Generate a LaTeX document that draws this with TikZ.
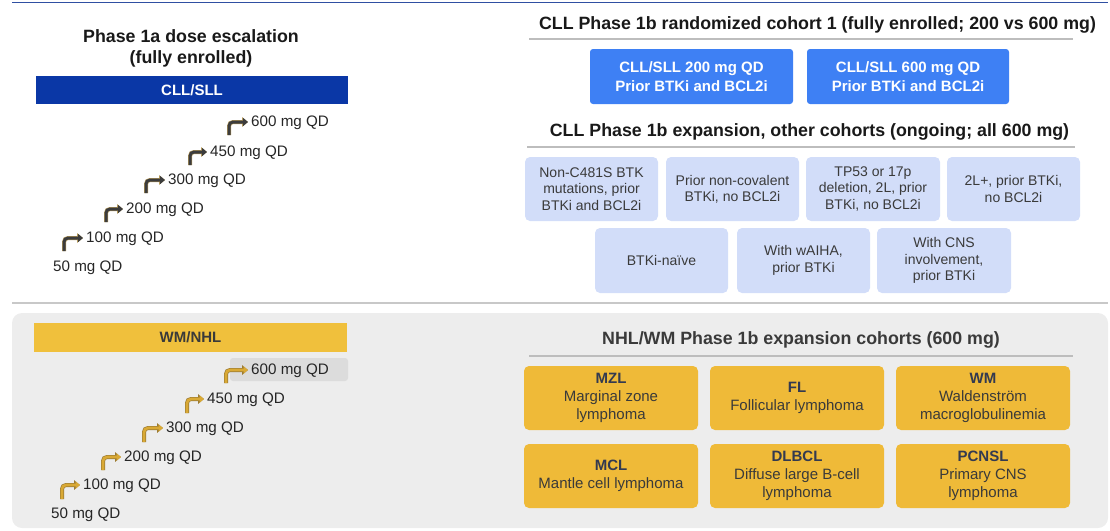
\documentclass[tikz,border=0pt]{standalone}
\usepackage{fontspec}
\setmainfont{Liberation Sans}
\usetikzlibrary{arrows.meta}
\definecolor{topline}{HTML}{2F4FA2}
\definecolor{darkbar}{HTML}{0A37A6}
\definecolor{bluebox}{HTML}{3E80F4}
\definecolor{lightbox}{HTML}{D2DDF9}
\definecolor{goldbar}{HTML}{F0C03C}
\definecolor{goldbox}{HTML}{EFBA38}
\definecolor{panel}{HTML}{EDEDED}
\definecolor{hilite}{HTML}{DCDCDC}
\definecolor{sepline}{HTML}{C8C8C8}
\definecolor{headline}{HTML}{BDBDBD}
\definecolor{txt}{HTML}{262626}
\definecolor{boxtxt}{HTML}{3A3A3A}
\definecolor{navytxt}{HTML}{333A50}
\definecolor{arrdark}{HTML}{3C3C3C}
\definecolor{arredge}{HTML}{B59A5A}
\definecolor{arrgold}{HTML}{D9A935}
\definecolor{arrbrown}{HTML}{9C7B33}
\begin{document}
\begin{tikzpicture}[x=1pt,y=-1pt,
  titleA/.style={font=\fontsize{17.8}{21}\selectfont\bfseries, text=black!90, align=center, inner sep=0pt},
  titleB/.style={font=\fontsize{17.8}{21}\selectfont\bfseries, text=black!90, inner sep=0pt, text height=12.7pt, text depth=0pt},
  dose/.style={anchor=west, inner sep=0pt, text height=10.7pt, text depth=0pt, font=\fontsize{15.2}{18}\selectfont, text=txt},
  lbox/.style={fill=lightbox, rounded corners=5pt, minimum width=133pt, minimum height=64pt, align=center, inner sep=0pt, font=\fontsize{14}{16.3}\selectfont, text=boxtxt},
  bbox/.style={fill=bluebox, rounded corners=3pt, minimum width=203pt, minimum height=55pt, align=center, inner sep=0pt, font=\fontsize{15}{19}\selectfont\bfseries, text=white},
  gbox/.style={fill=goldbox, rounded corners=5pt, minimum width=174pt, minimum height=64pt, align=center, inner sep=0pt, font=\fontsize{15}{18}\selectfont, text=boxtxt},
  barbox/.style={minimum width=312pt, minimum height=28pt, inner sep=0pt, font=\fontsize{15}{18}\selectfont\bfseries},
  steptop/.style={draw=arrdark, line width=3pt, rounded corners=4pt, -{Triangle[length=5pt,width=8pt]},
    preaction={draw=arredge, line width=4pt, -{Triangle[length=6pt,width=9.5pt]}}},
  stepbot/.style={draw=arrgold, line width=2.6pt, rounded corners=4pt, -{Triangle[length=4.5pt,width=7pt]},
    preaction={draw=arrbrown, line width=4pt, -{Triangle[length=6pt,width=9.5pt]}}},
  headrule/.style={draw=headline, line width=1.5pt}
]
\useasboundingbox (0,0) rectangle (1110,530);

% frame lines and panel
\draw[topline, line width=1.3pt] (12,2.5) -- (1108,2.5);
\draw[sepline, line width=2pt] (12,302.5) -- (1108,302.5);
\fill[panel, rounded corners=10pt] (12,313) rectangle (1108,528);

% ---------- Phase 1a (top) ----------
\node[titleA] (ph1a) at (191,48) {Phase 1a dose escalation\\(fully enrolled)};
\node[barbox, fill=darkbar, text=white] (cllbar) at (192,90) {CLL/SLL};

\node[dose] (t50) at (53,266) {50 mg QD};
\node[dose] (t100) at (86,237) {100 mg QD};
\node[dose] (t200) at (126,208) {200 mg QD};
\node[dose] (t300) at (168,179) {300 mg QD};
\node[dose] (t450) at (210,151) {450 mg QD};
\node[dose] (t600) at (251,121) {600 mg QD};
\coordinate (ta100) at (64,251);
\coordinate (ta200) at (106,222);
\coordinate (ta300) at (146,193);
\coordinate (ta450) at (190,165);
\coordinate (ta600) at (229,135);
\draw[steptop] (ta100) |- ([shift={(-3,1)}]t100.west);
\draw[steptop] (ta200) |- ([shift={(-3,1)}]t200.west);
\draw[steptop] (ta300) |- ([shift={(-3,1)}]t300.west);
\draw[steptop] (ta450) |- ([shift={(-3,1)}]t450.west);
\draw[steptop] (ta600) |- ([shift={(-3,1)}]t600.west);

% ---------- Phase 1a (bottom) ----------
\node[barbox, fill=goldbar, text=boxtxt, minimum width=313pt, minimum height=29pt] (wmbar) at (190.5,337.5) {WM/NHL};
\fill[hilite, rounded corners=3pt] (230,358) rectangle (348,381);
\node[dose] (b50) at (51,513) {50 mg QD};
\node[dose] (b100) at (83,484) {100 mg QD};
\node[dose] (b200) at (124,456) {200 mg QD};
\node[dose] (b300) at (166,427) {300 mg QD};
\node[dose] (b450) at (207,398) {450 mg QD};
\node[dose] (b600) at (251,369) {600 mg QD};
\coordinate (ba100) at (62,499);
\coordinate (ba200) at (103,470);
\coordinate (ba300) at (144,442);
\coordinate (ba450) at (187,413);
\coordinate (ba600) at (226,383);
\draw[stepbot] (ba100) |- ([shift={(-3,1)}]b100.west);
\draw[stepbot] (ba200) |- ([shift={(-3,1)}]b200.west);
\draw[stepbot] (ba300) |- ([shift={(-3,1)}]b300.west);
\draw[stepbot] (ba450) |- ([shift={(-3,1)}]b450.west);
\draw[stepbot] (ba600) |- ([shift={(-3,1)}]b600.west);

% ---------- CLL Phase 1b randomized ----------
\node[titleB] (rt) at (817.5,23) {CLL Phase 1b randomized cohort 1 (fully enrolled; 200 vs 600 mg)};
\draw[headrule] (529,39) -- (1073,39);
\node[bbox] (r200) at (691.5,76.5) {CLL/SLL 200 mg QD\\Prior BTKi and BCL2i};
\node[bbox, minimum width=202pt] (r600) at (908,76.5) {CLL/SLL 600 mg QD\\Prior BTKi and BCL2i};

% ---------- CLL Phase 1b expansion ----------
\node[titleB] (et) at (809.5,130) {CLL Phase 1b expansion, other cohorts (ongoing; all 600 mg)};
\draw[headrule] (527,147) -- (1075,147);
\node[lbox] (e1) at (591.5,189) {Non-C481S BTK\\mutations, prior\\BTKi and BCL2i};
\node[lbox] (e2) at (732.5,189) {Prior non-covalent\\BTKi, no BCL2i};
\node[lbox, minimum width=134pt] (e3) at (873,189) {TP53 or 17p\\deletion, 2L, prior\\BTKi, no BCL2i};
\node[lbox] (e4) at (1013.5,189) {2L+, prior BTKi,\\no BCL2i};
\node[lbox, minimum height=65pt] (e5) at (661.5,260.5) {BTKi-naïve};
\node[lbox, minimum height=65pt] (e6) at (803.5,260.5) {With wAIHA,\\prior BTKi};
\node[lbox, minimum width=134pt, minimum height=65pt] (e7) at (944,260.5) {With CNS\\involvement,\\prior BTKi};

% ---------- NHL/WM Phase 1b expansion ----------
\node[titleB, text=boxtxt] (nt) at (801,338) {NHL/WM Phase 1b expansion cohorts (600 mg)};
\draw[headrule] (529,356) -- (1073,356);
\node[gbox] (g1) at (611,398) {\textbf{\textcolor{navytxt}{MZL}}\\Marginal zone\\lymphoma};
\node[gbox] (g2) at (797,398) {\textbf{\textcolor{navytxt}{FL}}\\Follicular lymphoma};
\node[gbox] (g3) at (983,398) {\textbf{\textcolor{navytxt}{WM}}\\Waldenström\\macroglobulinemia};
\node[gbox] (g4) at (611,476) {\textbf{\textcolor{navytxt}{MCL}}\\Mantle cell lymphoma};
\node[gbox] (g5) at (797,476) {\textbf{\textcolor{navytxt}{DLBCL}}\\Diffuse large B-cell\\lymphoma};
\node[gbox] (g6) at (983,476) {\textbf{\textcolor{navytxt}{PCNSL}}\\Primary CNS\\lymphoma};
\end{tikzpicture}
\end{document}
